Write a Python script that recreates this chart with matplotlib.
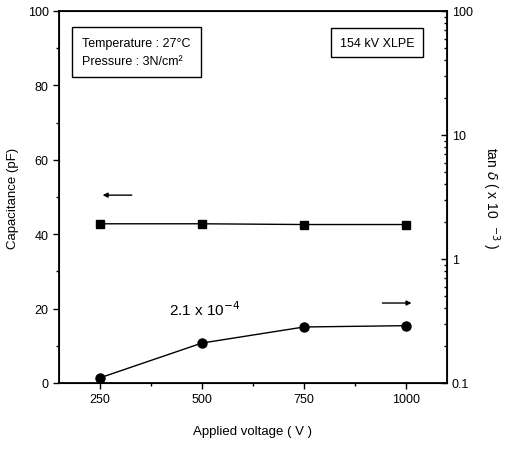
import numpy as np
import matplotlib.pyplot as plt
from matplotlib.ticker import MultipleLocator, LogLocator, NullFormatter

plt.rcParams['font.family'] = ['Liberation Sans', 'DejaVu Sans']

voltage = [250, 500, 750, 1000]
capacitance = [42.8, 42.8, 42.6, 42.6]
tan_delta = [0.110, 0.210, 0.283, 0.290]

fig = plt.figure(figsize=(5.06, 4.56), dpi=100)
ax1 = fig.add_axes([59/506, 1-384/456, 388/506, 372/456])

ax1.plot(voltage, capacitance, color='black', lw=1, marker='s', ms=6)
ax1.set_xlim(150, 1100)
ax1.set_ylim(0, 100)
ax1.set_xticks(voltage)
ax1.xaxis.set_minor_locator(MultipleLocator(125))
ax1.yaxis.set_major_locator(MultipleLocator(20))
ax1.yaxis.set_minor_locator(MultipleLocator(10))
ax1.tick_params(which='major', direction='out', length=4, width=1, labelsize=9)
ax1.tick_params(which='minor', direction='out', length=2, width=1)
ax1.set_xlabel("Applied voltage ( V )", fontsize=9.5, labelpad=14)
ax1.set_ylabel("Capacitance (pF)", fontsize=9.5, labelpad=6)
for s in ax1.spines.values():
    s.set_linewidth(1.3)

ax2 = ax1.twinx()
ax2.set_yscale('log')
ax2.plot(voltage, tan_delta, color='black', lw=1, marker='o', ms=6.5)
ax2.set_ylim(0.1, 100)
ax2.yaxis.set_major_locator(LogLocator(base=10))
ax2.yaxis.set_minor_locator(LogLocator(base=10, subs=np.arange(2, 10)))
ax2.yaxis.set_minor_formatter(NullFormatter())
ax2.set_yticks([0.1, 1, 10, 100])
ax2.set_yticklabels(['0.1', '1', '10', '100'])
ax2.tick_params(which='major', direction='in', length=4, width=1, labelsize=9)
ax2.tick_params(which='minor', direction='in', length=2, width=1)
ax2.set_ylabel(r"tan $\delta$ ( x 10  $^{-3}$ )", fontsize=10, rotation=-90, labelpad=21)

# arrows pointing to each axis
ax1.annotate('', xy=(250, 50.5), xytext=(335, 50.5),
             arrowprops=dict(arrowstyle='-|>', color='black', lw=1, mutation_scale=7))
ax1.annotate('', xy=(1020, 21.5), xytext=(935, 21.5),
             arrowprops=dict(arrowstyle='-|>', color='black', lw=1, mutation_scale=7))

ax1.text(420, 17.5, r"2.1 x 10$^{-4}$", fontsize=11, ha='left', va='bottom')

ax1.text(0.06, 0.89, "Temperature : 27\u00b0C\nPressure : 3N/cm\u00b2", transform=ax1.transAxes,
         fontsize=9, ha='left', va='center', linespacing=1.7,
         bbox=dict(boxstyle='square,pad=0.8', fc='white', ec='black', lw=1))
ax1.text(0.82, 0.915, "154 kV XLPE", transform=ax1.transAxes, fontsize=9,
         ha='center', va='center',
         bbox=dict(boxstyle='square,pad=0.7', fc='white', ec='black', lw=1))

fig.savefig('out.png', dpi=100)
